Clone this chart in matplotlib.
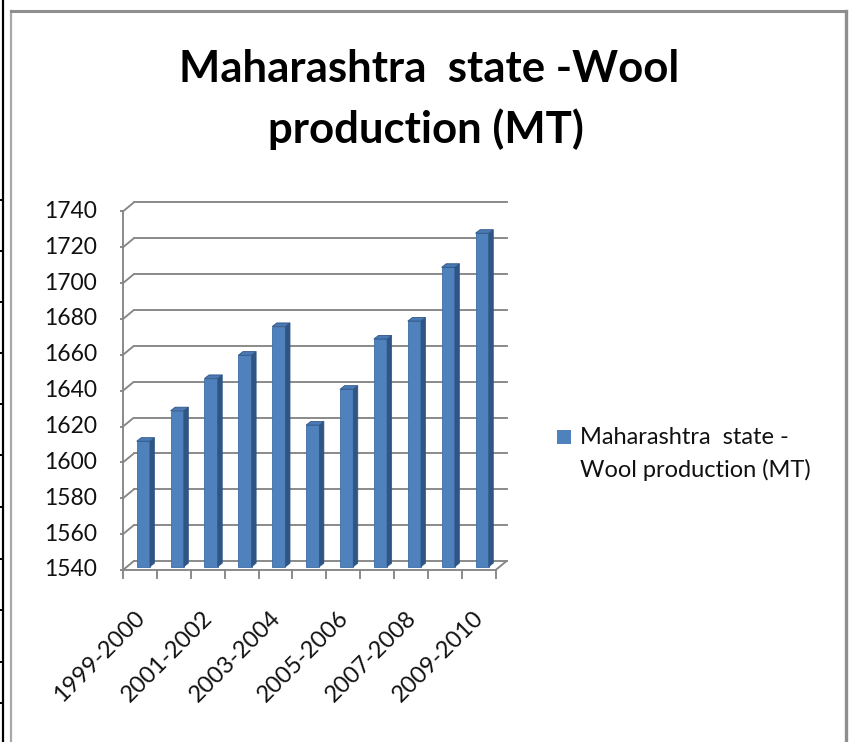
import matplotlib
matplotlib.use("Agg")
import matplotlib.pyplot as plt
from matplotlib.patches import Polygon, Rectangle
from matplotlib.lines import Line2D

# ---- data ----
categories = ['1999-2000', '2000-2001', '2001-2002', '2002-2003', '2003-2004',
              '2004-2005', '2005-2006', '2006-2007', '2007-2008', '2008-2009',
              '2009-2010']
values = [1610, 1627, 1645, 1658, 1674, 1619, 1639, 1667, 1677, 1707, 1726]
yticks = [1540, 1560, 1580, 1600, 1620, 1640, 1660, 1680, 1700, 1720, 1740]
title_lines = ['Maharashtra  state -Wool', 'production (MT)']
legend_lines = ['Maharashtra  state -', 'Wool production (MT)']

FONT = 'Lato'
W, H = 850, 742
fig = plt.figure(figsize=(W / 100, H / 100), dpi=100)
fig.patch.set_facecolor('white')

# ---- background / decoration axes in pixel coordinates ----
bg = fig.add_axes([0, 0, 1, 1], zorder=0)
bg.set_xlim(0, W)
bg.set_ylim(H, 0)
bg.axis('off')

# chart-area frame
frame_c = '#8e8e8e'
bg.add_line(Line2D([11, 11], [11, H], color='#a8a8a8', lw=1.6))
bg.add_line(Line2D([11, 846], [11, 11], color=frame_c, lw=2.2))
bg.add_line(Line2D([846, 846], [11, H], color=frame_c, lw=2.4))
# table border on the far left
bg.add_line(Line2D([3, 3], [0, H], color='black', lw=1.6))
for yy in [200, 251, 302, 353, 404, 455, 507, 559, 610, 662, 703]:
    bg.add_line(Line2D([0, 3], [yy, yy], color='black', lw=1.4))

# title
bg.text(429, 82, title_lines[0], fontsize=31.5, fontweight='bold', family=FONT,
        ha='center', va='baseline', color='black')
bg.text(426, 143, title_lines[1], fontsize=31.5, fontweight='bold', family=FONT,
        ha='center', va='baseline', color='black')

# legend
bg.add_patch(Rectangle((557, 430), 14, 14, facecolor='#4f81bd', edgecolor='none'))
bg.text(580, 437, legend_lines[0], fontsize=17, family=FONT, ha='left',
        va='center', color='#111111')
bg.text(580, 470, legend_lines[1], fontsize=17, family=FONT, ha='left',
        va='center', color='#111111')

# ---- chart axes (data coordinates) ----
# px_x = 123 + (x+0.5)*33.88 ; px_y = 570 - (y-1540)*1.793
xl = (-0.6, 10.9)
yl = (1530, 1750)
px_per_x = 33.88
px_per_y = 1.793
left_px = 123 + (xl[0] + 0.5) * px_per_x
right_px = 123 + (xl[1] + 0.5) * px_per_x
bot_px = 570 - (yl[0] - 1540) * px_per_y
top_px = 570 - (yl[1] - 1540) * px_per_y
ax = fig.add_axes([left_px / W, 1 - bot_px / H, (right_px - left_px) / W,
                   (bot_px - top_px) / H], zorder=1)
ax.set_xlim(*xl)
ax.set_ylim(*yl)
ax.axis('off')
ax.patch.set_alpha(0)

grid_c = '#868686'
glw = 1.35
ddx, ddy = 0.32, 5.0   # depth offset of the back wall
n = len(categories)
x0 = -0.5
x1 = n - 0.5

for t in yticks:
    ax.plot([x0, x0 + ddx], [t, t + ddy], color=grid_c, lw=glw, solid_capstyle='butt', zorder=1)
    ax.plot([x0 + ddx, x1 + ddx], [t + ddy, t + ddy], color=grid_c, lw=glw, zorder=1)
    ax.plot([x0 - 0.24, x0], [t, t], color=grid_c, lw=glw, zorder=1)
    ax.text(x0 - 0.77, t, str(t), ha='right', va='center', fontsize=16.5,
            family=FONT, color='#111111', clip_on=False)

# y axis and floor
ax.plot([x0, x0], [yticks[0], yticks[-1]], color=grid_c, lw=glw, zorder=1)
ax.plot([x0, x1], [yticks[0], yticks[0]], color=grid_c, lw=glw, zorder=1)
ax.plot([x1, x1 + ddx], [yticks[0], yticks[0] + ddy], color=grid_c, lw=glw, zorder=1)
for k in range(n + 1):
    ax.plot([k - 0.5, k - 0.5], [yticks[0], yticks[0] - 4.2], color=grid_c, lw=glw, zorder=1)

# bars (pseudo 3-D)
front_c = '#4f81bd'
side_c = '#2f5585'
top_c = '#4a79b3'
sh = 1.8                 # bar sits at mid depth
bx0, bw = -0.095, 0.39
bdx, bdy = 0.135, 2.0
base = yticks[0] + sh
for i, v in enumerate(values):
    l = i + bx0
    r = l + bw
    tv = v + sh
    ax.add_patch(Polygon([(l, base), (r, base), (r, tv), (l, tv)], closed=True,
                         facecolor=front_c, edgecolor='#3f6da6', lw=0.6, zorder=3))
    ax.add_patch(Polygon([(r, base), (r + bdx, base + bdy), (r + bdx, tv + bdy), (r, tv)],
                         closed=True, facecolor=side_c, edgecolor=side_c, lw=0.5, zorder=3))
    ax.add_patch(Polygon([(l, tv), (r, tv), (r + bdx, tv + bdy), (l + bdx, tv + bdy)],
                         closed=True, facecolor=top_c, edgecolor='#2f5585', lw=0.6, zorder=4))

# category labels (every other one)
for i, c in enumerate(categories):
    if i % 2 == 0:
        ax.text(i + 0.05, 1515, c, rotation=45, rotation_mode='anchor', ha='right',
                va='center', fontsize=17, family=FONT, color='#111111',
                clip_on=False)

fig.savefig('out.png', dpi=100, facecolor='white')
